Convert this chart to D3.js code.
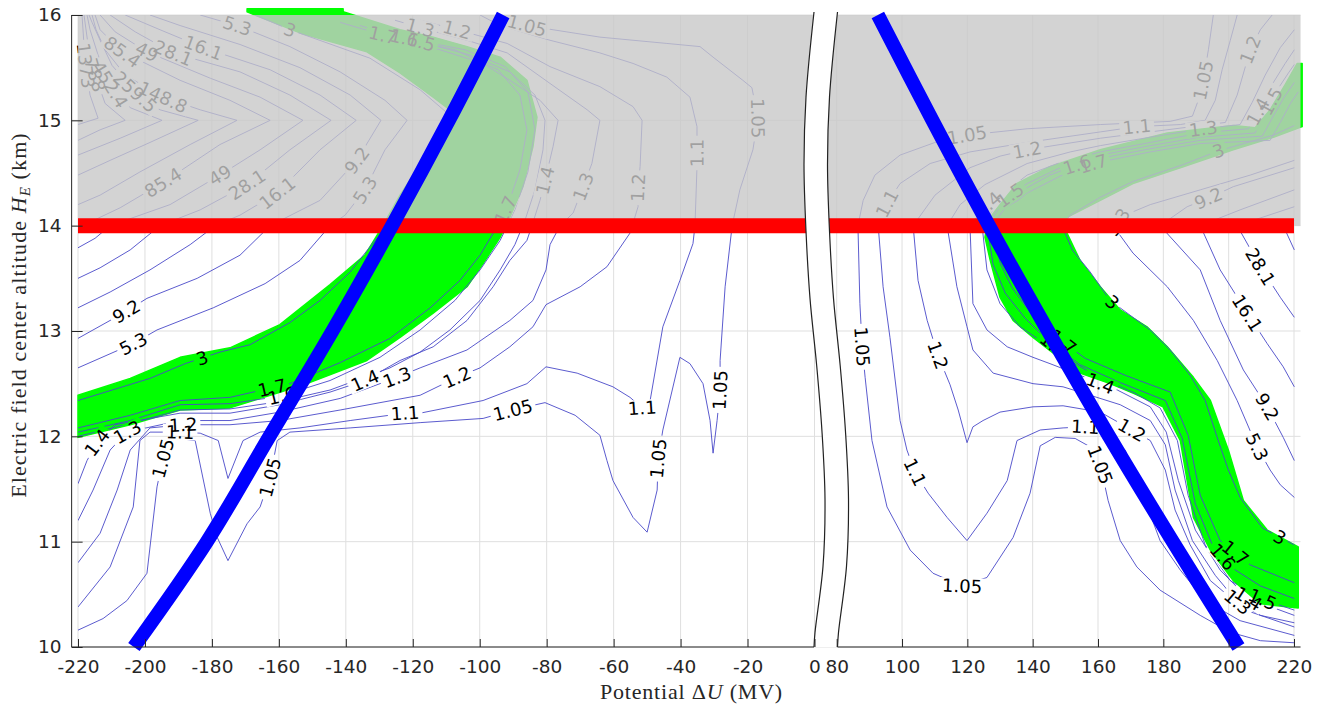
<!DOCTYPE html>
<html>
<head>
<meta charset="utf-8">
<script src="https://cdn.jsdelivr.net/npm/d3@7"></script>
<style>
  html, body { margin: 0; padding: 0; background: #ffffff; }
  svg { display: block; }
</style>
</head>
<body>
<script>
// ---------------------------------------------------------------------------
// Axis ticks
// ---------------------------------------------------------------------------
const xTicksLeft  = [-220, -200, -180, -160, -140, -120, -100, -80, -60, -40, -20, 0];
const xTicksRight = [80, 100, 120, 140, 160, 180, 200, 220];
const yTicks      = [10, 11, 12, 13, 14, 15, 16];
const thresholdAltitude = 14;          // km, red limit line
const shadedAltitudes   = [14, 16];    // km, shaded (excluded) band

// ---------------------------------------------------------------------------
// Contour lines, [potential ΔU (MV), altitude H_E (km)]
// ---------------------------------------------------------------------------
// negative-potential side
const cL_5_3   = [[-183.5,16.00],[-171.6,15.89],[-156.7,15.70],[-141.7,15.46],[-128.3,15.19],[-121.7,15.00],[-128.3,14.72],[-134.3,14.34],[-140.2,14.10],[-144.7,14.00],[-153.7,13.67],[-164.1,13.45],[-179.6,13.22],[-196.4,13.01],[-203.5,12.88],[-220.0,12.65]];
const cL_9_2   = [[-198.5,16.00],[-189.5,15.90],[-171.6,15.72],[-153.7,15.50],[-138.7,15.24],[-129.5,15.00],[-136.7,14.62],[-147.7,14.24],[-162.6,14.00],[-171.6,13.72],[-184.4,13.50],[-199.4,13.31],[-205.9,13.18],[-220.0,12.93]];
const cL_16_1  = [[-205.9,16.00],[-195.5,15.86],[-182.6,15.69],[-162.6,15.48],[-147.7,15.24],[-136.9,15.00],[-147.7,14.72],[-160.5,14.31],[-171.6,14.10],[-179.0,14.00],[-186.5,13.82],[-198.5,13.58],[-210.4,13.37],[-220.0,13.22]];
const cL_28_1  = [[-210.4,16.00],[-202.9,15.84],[-191.6,15.64],[-171.6,15.46],[-156.7,15.24],[-144.4,15.00],[-156.7,14.72],[-169.5,14.39],[-183.5,14.15],[-195.5,14.00],[-204.4,13.77],[-213.4,13.60],[-220.0,13.50]];
const cL_49    = [[-213.4,16.00],[-208.9,15.84],[-199.4,15.65],[-180.5,15.40],[-165.6,15.22],[-152.8,15.00],[-165.6,14.72],[-177.6,14.48],[-192.5,14.20],[-210.4,14.00],[-214.9,13.88],[-220.0,13.79]];
const cL_85_4  = [[-214.9,16.00],[-213.4,15.86],[-206.8,15.65],[-189.5,15.38],[-174.6,15.19],[-162.6,15.00],[-177.6,14.77],[-194.6,14.41],[-207.4,14.17],[-220.0,13.98]];
const cL_148_8 = [[-215.8,16.00],[-214.6,15.86],[-211.9,15.67],[-205.9,15.43],[-194.6,15.22],[-183.5,15.10],[-172.5,15.00],[-186.5,14.77],[-201.5,14.51],[-213.4,14.29],[-220.0,14.20]];
const cL_259_5 = [[-216.7,16.00],[-215.8,15.93],[-213.4,15.76],[-209.8,15.52],[-202.9,15.27],[-195.5,15.10],[-184.1,15.00],[-198.5,14.79],[-210.4,14.62],[-220.0,14.48]];
const cL_452_4 = [[-217.3,16.00],[-216.4,15.86],[-214.0,15.62],[-210.4,15.34],[-204.4,15.12],[-194.9,15.00],[-207.4,14.83],[-220.0,14.67]];
const cL_788   = [[-218.2,16.00],[-217.0,15.72],[-214.9,15.43],[-211.9,15.16],[-205.9,15.00],[-213.4,14.91],[-220.0,14.81]];
const cL_1373  = [[-218.8,16.00],[-217.9,15.57],[-216.4,15.24],[-214.0,15.02],[-220.0,14.96]];
const cL_3     = [[-167.1,16.00],[-156.7,15.86],[-132.8,15.59],[-117.8,15.29],[-110.1,15.08],[-110.4,14.81],[-117.8,14.39],[-126.8,14.03],[-131.3,13.86],[-138.7,13.56],[-147.7,13.29],[-156.7,13.08],[-168.6,12.87],[-177.6,12.80],[-188.0,12.69],[-198.5,12.55],[-220.0,12.34]];
const cL_1_7   = [[-141.7,15.93],[-128.9,15.81],[-117.8,15.74],[-107.4,15.67],[-94.5,15.48],[-88.0,15.24],[-85.9,14.91],[-88.0,14.53],[-91.5,14.20],[-95.4,13.96],[-99.9,13.72],[-105.9,13.48],[-114.8,13.22],[-126.8,12.93],[-141.7,12.70],[-156.7,12.50],[-165.0,12.44],[-174.6,12.37],[-189.5,12.34],[-204.4,12.20],[-220.0,12.08]];
const cL_1_6   = [[-135.8,15.90],[-123.8,15.79],[-104.4,15.67],[-92.4,15.51],[-85.6,15.27],[-83.5,14.91],[-85.6,14.51],[-89.5,14.15],[-93.9,13.86],[-99.9,13.58],[-107.4,13.29],[-117.8,13.01],[-129.8,12.75],[-144.7,12.53],[-159.7,12.38],[-174.6,12.31],[-189.5,12.30],[-204.4,12.15],[-220.0,12.04]];
const cL_1_5   = [[-129.8,15.86],[-114.8,15.72],[-102.9,15.62],[-91.0,15.46],[-83.5,15.24],[-80.5,15.00],[-81.1,14.72],[-83.5,14.34],[-86.5,14.05],[-89.5,13.82],[-93.9,13.58],[-99.9,13.29],[-108.9,13.01],[-117.8,12.80],[-126.8,12.65],[-144.7,12.44],[-159.7,12.33],[-174.6,12.26],[-189.5,12.25],[-204.4,12.12],[-220.0,12.00]];
const cL_1_4   = [[-120.8,15.74],[-111.9,15.67],[-99.0,15.54],[-91.0,15.38],[-82.0,15.19],[-76.6,15.00],[-78.1,14.75],[-80.5,14.43],[-82.0,14.24],[-84.4,14.00],[-85.9,13.86],[-91.0,13.67],[-96.0,13.42],[-103.8,13.10],[-113.9,12.85],[-123.8,12.72],[-134.3,12.53],[-144.7,12.42],[-159.7,12.30],[-174.6,12.22],[-189.5,12.22],[-208.9,12.11],[-214.3,11.94],[-217.3,11.77],[-220.0,11.55]];
const cL_1_3   = [[-125.3,15.95],[-117.8,15.88],[-103.8,15.76],[-91.8,15.64],[-79.0,15.35],[-67.9,15.10],[-64.1,15.00],[-66.5,14.59],[-69.1,14.37],[-72.1,14.12],[-76.0,14.00],[-79.0,13.82],[-80.2,13.58],[-84.1,13.29],[-91.0,13.10],[-103.8,12.82],[-117.8,12.65],[-124.7,12.56],[-141.7,12.36],[-159.7,12.23],[-174.6,12.15],[-189.5,12.15],[-205.4,12.04],[-210.4,11.87],[-215.5,11.49],[-220.0,11.20]];
const cL_1_2   = [[-117.8,15.95],[-106.8,15.86],[-91.8,15.73],[-79.0,15.51],[-64.1,15.32],[-54.2,15.13],[-51.5,15.00],[-52.1,14.56],[-52.7,14.36],[-52.7,14.18],[-55.1,13.93],[-62.0,13.61],[-70.0,13.42],[-80.2,13.25],[-84.1,13.04],[-91.0,12.85],[-99.9,12.65],[-106.8,12.56],[-117.8,12.39],[-141.7,12.25],[-159.7,12.15],[-174.6,12.11],[-188.6,12.11],[-198.5,12.08],[-204.4,11.87],[-208.3,11.49],[-213.4,11.08],[-220.0,10.80]];
const cL_1_1   = [[-99.9,16.00],[-93.9,15.90],[-79.0,15.76],[-64.1,15.64],[-54.2,15.54],[-44.1,15.41],[-37.2,15.22],[-35.1,14.94],[-35.1,14.69],[-35.1,14.56],[-35.7,14.00],[-36.3,13.83],[-40.2,13.48],[-45.3,13.04],[-49.1,12.34],[-51.5,12.27],[-55.1,12.37],[-60.2,12.47],[-70.9,12.60],[-80.2,12.66],[-85.9,12.50],[-99.0,12.34],[-117.8,12.22],[-122.3,12.22],[-138.7,12.15],[-153.7,12.08],[-165.6,12.04],[-170.7,11.96],[-175.2,11.60],[-178.1,11.96],[-183.5,12.03],[-188.0,12.04],[-198.5,12.04],[-201.5,11.96],[-203.5,11.33],[-210.4,10.76],[-220.0,10.38]];
const cL_1_05  = [[-92.4,15.98],[-85.9,15.90],[-78.1,15.86],[-64.1,15.79],[-44.1,15.73],[-34.2,15.70],[-30.3,15.60],[-21.4,15.38],[-18.7,15.31],[-16.9,15.02],[-18.4,14.72],[-22.3,14.34],[-24.6,14.00],[-26.7,13.42],[-28.2,12.72],[-28.2,12.44],[-29.1,12.15],[-30.3,11.84],[-31.2,12.15],[-33.3,12.50],[-37.2,12.69],[-40.2,12.75],[-45.3,12.06],[-46.7,11.79],[-47.0,11.49],[-50.0,11.09],[-54.2,11.23],[-60.2,11.58],[-62.0,11.77],[-64.1,12.01],[-71.5,12.20],[-80.5,12.32],[-90.1,12.25],[-99.0,12.17],[-117.8,12.13],[-138.7,12.08],[-156.7,12.04],[-160.5,11.96],[-162.6,11.61],[-165.6,11.33],[-169.5,11.17],[-175.2,10.82],[-178.4,11.04],[-180.5,11.27],[-185.0,11.96],[-192.5,11.99],[-194.6,11.79],[-196.4,11.52],[-199.4,10.70],[-205.4,10.44],[-212.5,10.27],[-220.0,10.16]];

// positive-potential side
const cR_1_05 = [[195.3,16.00],[193.8,15.67],[192.2,15.38],[190.7,15.19],[188.9,15.04],[182.1,14.99],[160.7,14.96],[138.3,14.92],[119.9,14.86],[110.1,14.79],[99.4,14.67],[91.7,14.48],[88.1,14.24],[86.5,14.00],[87.1,13.26],[87.8,12.85],[88.7,12.56],[90.8,11.96],[95.4,11.33],[102.5,10.92],[109.5,10.70],[118.4,10.58],[126.0,10.66],[134.0,11.04],[139.2,11.46],[142.3,11.91],[146.9,11.99],[153.0,11.98],[157.6,11.90],[160.7,11.73],[163.1,11.39],[166.8,11.01],[171.9,10.76],[179.0,10.54],[191.3,10.30],[200.5,10.14],[209.7,10.06],[220.1,10.04]];
const cR_1_1  = [[202.6,16.00],[200.5,15.76],[198.0,15.48],[195.9,15.19],[192.8,15.00],[185.2,14.96],[171.9,14.94],[160.7,14.89],[138.3,14.79],[120.8,14.70],[108.6,14.59],[99.4,14.40],[95.4,14.21],[92.7,14.00],[94.2,13.42],[96.3,12.94],[99.4,12.15],[101.5,11.87],[104.0,11.66],[108.0,11.46],[113.8,11.23],[119.9,11.01],[126.0,11.27],[132.2,11.58],[135.2,11.96],[142.3,12.06],[149.3,12.08],[156.1,12.09],[162.2,12.06],[168.3,11.87],[174.4,11.39],[179.0,11.01],[185.2,10.73],[192.8,10.44],[203.5,10.25],[220.1,10.11]];
const cR_1_2  = [[213.3,16.00],[209.7,15.86],[206.6,15.67],[202.6,15.24],[199.0,14.98],[191.3,14.95],[176.0,14.89],[160.7,14.83],[148.4,14.77],[138.3,14.72],[130.0,14.66],[120.8,14.55],[110.1,14.29],[103.4,14.00],[104.9,13.48],[107.7,13.10],[111.0,12.77],[114.7,12.49],[117.2,12.25],[119.9,11.94],[121.7,12.09],[124.8,12.15],[130.0,12.23],[140.1,12.28],[149.3,12.29],[160.7,12.23],[170.4,12.06],[176.0,11.96],[180.6,11.68],[183.6,11.30],[188.2,10.97],[194.4,10.63],[205.1,10.35],[220.1,10.19]];
const cR_1_3  = [[220.1,15.86],[215.8,15.69],[211.2,15.43],[207.2,15.17],[203.5,14.96],[192.2,14.92],[176.0,14.84],[160.7,14.76],[151.5,14.70],[138.3,14.59],[125.4,14.39],[117.8,14.20],[113.8,14.00],[116.8,13.42],[119.9,13.04],[121.7,12.82],[127.9,12.60],[140.1,12.50],[149.3,12.47],[157.6,12.39],[166.8,12.30],[176.0,12.15],[180.6,11.92],[183.6,11.49],[188.9,11.01],[195.9,10.68],[202.6,10.43],[209.7,10.30],[220.1,10.23]];
const cR_1_4  = [[220.1,15.67],[217.3,15.54],[213.3,15.34],[209.7,15.12],[206.0,14.92],[191.3,14.88],[176.0,14.79],[160.7,14.70],[148.4,14.60],[138.3,14.48],[131.6,14.32],[125.4,14.18],[120.8,14.00],[121.7,13.26],[126.0,13.01],[132.2,12.85],[140.1,12.75],[145.3,12.69],[154.5,12.58],[165.9,12.44],[176.0,12.28],[180.9,12.04],[184.6,11.58],[189.8,11.11],[197.4,10.73],[206.0,10.46],[220.1,10.30]];
const cR_1_5  = [[220.1,15.53],[218.3,15.45],[214.9,15.29],[211.2,15.08],[208.1,14.88],[191.3,14.84],[176.0,14.76],[160.7,14.67],[148.4,14.55],[138.3,14.40],[133.1,14.29],[128.5,14.18],[124.5,14.00],[126.0,13.58],[130.0,13.26],[136.1,13.04],[142.3,12.91],[151.5,12.72],[160.7,12.55],[171.3,12.41],[179.0,12.27],[184.3,11.96],[187.6,11.44],[192.8,10.97],[200.5,10.63],[209.7,10.46],[220.1,10.35]];
const cR_1_6  = [[220.1,15.36],[217.0,15.22],[213.3,15.02],[210.3,14.85],[191.3,14.81],[176.0,14.73],[160.7,14.64],[153.6,14.58],[145.3,14.48],[138.3,14.36],[134.6,14.27],[130.0,14.18],[126.0,14.00],[127.9,13.63],[131.6,13.36],[137.7,13.12],[145.3,12.89],[154.5,12.68],[166.8,12.51],[180.6,12.34],[185.8,11.98],[189.8,11.36],[195.0,10.97],[201.1,10.75],[209.7,10.58],[220.1,10.46]];
const cR_1_7  = [[221.3,15.27],[218.9,15.16],[215.8,14.98],[212.7,14.81],[191.3,14.78],[176.0,14.70],[158.5,14.59],[148.4,14.47],[138.3,14.31],[135.5,14.24],[131.6,14.17],[127.6,14.00],[130.0,13.65],[133.7,13.41],[139.2,13.18],[146.9,12.95],[156.1,12.74],[168.3,12.58],[182.1,12.42],[187.6,12.01],[191.3,11.44],[197.4,11.01],[206.6,10.78],[220.1,10.61]];
const cR_3    = [[220.1,14.95],[213.7,14.86],[196.8,14.71],[186.1,14.58],[170.7,14.42],[160.7,14.27],[151.5,14.10],[149.0,14.00],[152.1,13.77],[157.6,13.56],[163.7,13.29],[169.8,13.15],[176.0,13.01],[182.1,12.82],[188.2,12.58],[192.8,12.34],[196.8,11.96],[199.9,11.68],[203.5,11.42],[210.3,11.13],[216.4,11.03],[220.1,10.97]];
const cR_5_3  = [[220.1,14.62],[206.6,14.48],[191.3,14.34],[176.0,14.20],[169.8,14.12],[164.6,14.00],[170.7,13.74],[181.2,13.42],[189.2,13.10],[196.5,12.72],[202.6,12.34],[208.7,11.90],[212.7,11.68],[215.8,11.54],[220.1,11.42]];
const cR_9_2  = [[220.1,14.55],[201.4,14.37],[193.8,14.26],[187.3,14.18],[179.0,14.00],[191.3,13.58],[197.4,13.10],[204.5,12.63],[211.8,12.28],[216.7,11.99],[220.1,11.77]];
const cR_16_1 = [[220.1,14.34],[203.5,14.15],[191.3,14.00],[197.4,13.58],[205.7,13.17],[211.8,12.88],[216.7,12.66],[220.1,12.47]];
const cR_28_1 = [[220.1,14.18],[202.6,14.00],[209.7,13.61],[215.8,13.32],[220.1,13.13]];
const cR_49   = [[220.1,14.05],[216.7,14.00],[220.1,13.77]];

// level name of each contour line, in drawing order
const contourLevels = ["5.3","9.2","16.1","28.1","49","85.4","148.8","259.5","452.4","788","1373","3","1.7","1.6","1.5","1.4","1.3","1.2","1.1","1.05",
                       "1.05","1.1","1.2","1.3","1.4","1.5","1.6","1.7","3","5.3","9.2","16.1","28.1","49"];
const contourPaths  = [cL_5_3,cL_9_2,cL_16_1,cL_28_1,cL_49,cL_85_4,cL_148_8,cL_259_5,cL_452_4,cL_788,cL_1373,cL_3,cL_1_7,cL_1_6,cL_1_5,cL_1_4,cL_1_3,cL_1_2,cL_1_1,cL_1_05,
                       cR_1_05,cR_1_1,cR_1_2,cR_1_3,cR_1_4,cR_1_5,cR_1_6,cR_1_7,cR_3,cR_5_3,cR_9_2,cR_16_1,cR_28_1,cR_49];

// inline labels: [contour index, ΔU, H_E]
const contourLabels = [
  [0,-172.5,15.89],[0,-134.3,14.34],[0,-203.5,12.88],
  [1,-136.7,14.62],[1,-205.9,13.20],
  [2,-182.6,15.69],[2,-160.5,14.31],
  [3,-191.6,15.64],[3,-169.5,14.39],
  [4,-199.4,15.65],[4,-177.6,14.48],
  [5,-206.8,15.65],[5,-194.6,14.41],
  [6,-194.6,15.22],[7,-202.9,15.27],[8,-210.4,15.34],[9,-214.9,15.43],[10,-217.6,15.52],
  [11,-156.7,15.86],[11,-183.0,12.75],
  [12,-162.0,12.46],[12,-92.4,14.15],[12,-128.9,15.81],
  [13,-159.1,12.39],[13,-122.6,15.78],
  [14,-117.8,15.72],
  [15,-214.3,11.94],[15,-134.3,12.53],[15,-80.5,14.43],
  [16,-205.4,12.06],[16,-124.7,12.56],[16,-69.1,14.37],[16,-117.8,15.88],
  [17,-188.6,12.11],[17,-106.8,12.56],[17,-52.7,14.36],[17,-106.8,15.86],
  [18,-189.5,12.02],[18,-122.3,12.22],[18,-51.5,12.27],[18,-35.1,14.69],
  [19,-194.6,11.79],[19,-162.6,11.61],[19,-90.1,12.25],[19,-46.7,11.79],[19,-28.2,12.44],[19,-16.9,15.02],[19,-85.9,15.90],
  [20,192.2,15.38],[20,119.9,14.86],[20,87.8,12.85],[20,118.4,10.58],[20,160.7,11.73],
  [21,171.9,14.94],[21,95.4,14.21],[21,104.0,11.66],[21,156.1,12.09],
  [22,206.6,15.67],[22,138.3,14.72],[22,111.0,12.77],[22,170.4,12.06],
  [23,192.2,14.92],[23,202.6,10.42],
  [24,209.1,15.08],[24,126.3,14.20],[24,160.7,12.50],[24,206.0,10.46],
  [25,213.0,15.18],[25,133.1,14.29],[25,210.3,10.45],
  [26,153.6,14.58],[26,146.9,12.89],[26,198.0,10.85],
  [27,158.5,14.59],[27,149.3,12.90],[27,202.0,10.89],
  [28,196.8,14.71],[28,164.3,13.27],[28,215.8,11.05],
  [29,166.0,14.04],[29,208.7,11.90],
  [30,193.8,14.26],[30,211.8,12.28],
  [31,205.7,13.17],
  [32,209.7,13.61]
];

// ---------------------------------------------------------------------------
// Feasible region (green band) outlines, [ΔU, H_E]
// ---------------------------------------------------------------------------
const greenBandLeft = [[-220.0,12.39],[-204.4,12.55],[-189.5,12.75],[-174.6,12.84],[-159.7,13.06],[-144.7,13.44],[-134.3,13.72],[-128.9,14.00],[-123.8,14.29],[-117.8,14.58],[-111.9,14.91],[-108.9,15.10],[-113.9,15.22],[-123.8,15.45],[-133.7,15.65],[-153.7,15.83],[-169.5,16.03],[-169.5,16.06],[-140.8,16.06],[-140.8,16.03],[-123.8,15.86],[-113.9,15.79],[-103.8,15.70],[-93.9,15.60],[-85.9,15.38],[-82.9,15.03],[-84.1,14.75],[-87.1,14.37],[-91.0,14.08],[-93.9,13.89],[-99.0,13.64],[-103.8,13.42],[-113.9,13.17],[-123.8,12.94],[-133.7,12.72],[-151.6,12.50],[-162.6,12.39],[-174.6,12.27],[-189.5,12.25],[-204.4,12.11],[-220.0,11.99]];
const greenBandRight = [[221.3,10.37],[209.7,10.41],[201.4,10.63],[194.4,10.92],[189.2,11.23],[185.2,11.96],[179.9,12.28],[170.7,12.41],[163.7,12.50],[154.5,12.60],[146.3,12.79],[140.1,12.94],[134.0,13.10],[130.0,13.32],[127.0,13.67],[125.4,13.89],[126.3,14.05],[130.0,14.20],[135.2,14.40],[145.3,14.56],[160.7,14.72],[181.2,14.88],[201.4,14.95],[208.1,14.93],[212.7,15.10],[217.3,15.34],[221.0,15.54],[222.5,15.54],[222.5,14.94],[213.7,14.84],[201.4,14.72],[186.1,14.56],[170.7,14.40],[160.7,14.24],[150.5,14.08],[150.5,13.93],[154.5,13.67],[160.7,13.42],[166.8,13.20],[175.0,13.04],[181.2,12.85],[189.2,12.56],[194.4,12.34],[199.9,11.87],[204.5,11.39],[211.8,11.11],[221.3,10.95]];

// ---------------------------------------------------------------------------
// Blue reference curves, [ΔU, H_E]
// ---------------------------------------------------------------------------
const blueCurveLeft  = [[-203.3,10],[-181.5,11],[-162.8,12],[-144.0,13],[-126.2,14],[-109.2,15],[-93.0,16]];
const blueCurveRight = [[203.0,10],[182.9,11],[163.4,12],[144.7,13],[126.6,14],[109.3,15],[92.6,16]];

// ---------------------------------------------------------------------------
// Layout and scales (x axis is broken between 0 and 80 MV)
// ---------------------------------------------------------------------------
const W = 1336, H = 704;
const xLeft  = d3.scaleLinear().domain([-220, 0]).range([78, 814.5]);
const xRight = d3.scaleLinear().domain([80, 220]).range([836.7, 1294]);
const X = u => (u <= 40 ? xLeft(u) : xRight(u));
const Y = d3.scaleLinear().domain([10, 16]).range([647, 15]);
const axisLeftU = -221.9, axisRightU = 222;

const svg = d3.select("body").append("svg")
  .attr("width", W).attr("height", H)
  .attr("viewBox", `0 0 ${W} ${H}`);
const defs = svg.append("defs");

defs.append("clipPath").attr("id", "plotClip").append("rect")
  .attr("x", xLeft(-220)).attr("y", Y(16))
  .attr("width", xRight(axisRightU) - xLeft(-220)).attr("height", Y(10) - Y(16));

const gapMask = defs.append("mask").attr("id", "labelGaps")
  .attr("maskUnits", "userSpaceOnUse")
  .attr("x", 0).attr("y", 0).attr("width", W).attr("height", H);
gapMask.append("rect").attr("width", W).attr("height", H).attr("fill", "#fff");

// grid
const grid = svg.append("g").attr("stroke", "#dfdfdf").attr("stroke-width", 1);
[...xTicksLeft.map(xLeft), ...xTicksRight.map(xRight)].forEach(px => {
  grid.append("line").attr("x1", px).attr("x2", px).attr("y1", Y(10)).attr("y2", Y(16));
});
yTicks.forEach(v => {
  grid.append("line").attr("x1", xLeft(axisLeftU)).attr("x2", xRight(axisRightU))
    .attr("y1", Y(v)).attr("y2", Y(v));
});

// green feasible band
const area = d3.line().x(d => X(d[0])).y(d => Y(d[1])).curve(d3.curveLinearClosed);
[greenBandLeft, greenBandRight].forEach(poly => {
  svg.append("path").attr("d", area(poly))
    .attr("fill", "#00ff00").attr("stroke", "#00ff00")
    .attr("stroke-width", 1.5).attr("stroke-linejoin", "round");
});

// contour lines
const lineGen = d3.line().x(d => X(d[0])).y(d => Y(d[1]));
const contourG = svg.append("g")
  .attr("clip-path", "url(#plotClip)")
  .append("g").attr("mask", "url(#labelGaps)")
  .attr("fill", "none").attr("stroke", "#4848c8").attr("stroke-width", 0.9)
  .attr("stroke-linejoin", "round");
contourPaths.forEach(p => contourG.append("path").attr("d", lineGen(p)));

// contour labels, placed on their line and turned along it
const labelG = svg.append("g")
  .attr("font-family", "DejaVu Sans, sans-serif").attr("font-size", 18)
  .attr("fill", "#000").attr("text-anchor", "middle");

function screenPts(path) { return path.map(d => [X(d[0]), Y(d[1])]); }
function arcInfo(pts) {
  const cum = [0];
  for (let i = 1; i < pts.length; i++)
    cum.push(cum[i - 1] + Math.hypot(pts[i][0] - pts[i - 1][0], pts[i][1] - pts[i - 1][1]));
  return cum;
}
function project(pts, cum, p) {
  let best = Infinity, s = 0;
  for (let i = 0; i < pts.length - 1; i++) {
    const [ax, ay] = pts[i], [bx, by] = pts[i + 1];
    const dx = bx - ax, dy = by - ay, L2 = dx * dx + dy * dy || 1;
    let t = ((p[0] - ax) * dx + (p[1] - ay) * dy) / L2;
    t = Math.max(0, Math.min(1, t));
    const d = Math.hypot(p[0] - (ax + t * dx), p[1] - (ay + t * dy));
    if (d < best) { best = d; s = cum[i] + t * Math.sqrt(L2); }
  }
  return s;
}
function pointAt(pts, cum, s) {
  s = Math.max(0, Math.min(cum[cum.length - 1], s));
  for (let i = 0; i < pts.length - 1; i++) {
    if (s <= cum[i + 1]) {
      const seg = cum[i + 1] - cum[i] || 1, t = (s - cum[i]) / seg;
      return [pts[i][0] + t * (pts[i + 1][0] - pts[i][0]), pts[i][1] + t * (pts[i + 1][1] - pts[i][1])];
    }
  }
  return pts[pts.length - 1];
}

contourLabels.forEach(([idx, u, h]) => {
  const pts = screenPts(contourPaths[idx]);
  const cum = arcInfo(pts);
  const s0 = project(pts, cum, [X(u), Y(h)]);
  const c = pointAt(pts, cum, s0);
  const t = labelG.append("text").attr("dy", "0.36em").text(contourLevels[idx]);
  const w = t.node().getComputedTextLength();
  const a = pointAt(pts, cum, s0 - w / 2), b = pointAt(pts, cum, s0 + w / 2);
  let ang = Math.atan2(b[1] - a[1], b[0] - a[0]) * 180 / Math.PI;
  if (ang > 90) ang -= 180;
  if (ang <= -90) ang += 180;
  const tf = `translate(${c[0]},${c[1]}) rotate(${ang})`;
  t.attr("transform", tf);
  gapMask.append("rect")
    .attr("x", -w / 2 - 3).attr("y", -8).attr("width", w + 6).attr("height", 16)
    .attr("transform", tf).attr("fill", "#000");
});

// shaded band above the altitude limit
svg.append("rect")
  .attr("x", xLeft(-220)).attr("y", Y(shadedAltitudes[1]))
  .attr("width", xRight(axisRightU) - xLeft(-220))
  .attr("height", Y(shadedAltitudes[0]) - Y(shadedAltitudes[1]))
  .attr("fill", "rgb(200,200,200)").attr("fill-opacity", 0.8);

// red altitude limit
svg.append("line")
  .attr("x1", xLeft(-220)).attr("x2", xRight(220))
  .attr("y1", Y(thresholdAltitude)).attr("y2", Y(thresholdAltitude))
  .attr("stroke", "#ff0000").attr("stroke-width", 15);

// blue reference curves
const curveGen = d3.line().x(d => X(d[0])).y(d => Y(d[1])).curve(d3.curveCatmullRom);
[blueCurveLeft, blueCurveRight].forEach(c => {
  svg.append("path").attr("d", curveGen(c))
    .attr("fill", "none").attr("stroke", "#0000ff").attr("stroke-width", 14)
    .attr("stroke-linecap", "butt");
});

// axis break ribbon
const breakWave = [[0,0],[0.134,-8],[0.240,-10],[0.345,-8],[0.451,-4],[0.557,2.7],[0.661,8],[0.767,11],[0.873,9],[0.977,1],[1,0]];
const bTop = Y(16) - 3, bBot = Y(10);
const bx0 = xLeft(0) - 0.5, bx1 = xRight(80) + 0.8;
const wavePts = breakWave.map(([f, dx]) => ({ y: bTop + f * (bBot - bTop), dx }));
svg.append("path")
  .attr("d", d3.area().y(d => d.y).x0(d => bx0 + d.dx).x1(d => bx1 + d.dx).curve(d3.curveCatmullRom)(wavePts))
  .attr("fill", "#fff");
[bx0, bx1].forEach(bx => {
  svg.append("path")
    .attr("d", d3.line().x(d => bx + d.dx).y(d => d.y).curve(d3.curveCatmullRom)(wavePts))
    .attr("fill", "none").attr("stroke", "#222").attr("stroke-width", 1.2);
});

// axes
const axisColor = "#262626";
const axG = svg.append("g");
axG.append("line").attr("x1", xLeft(axisLeftU)).attr("x2", xLeft(axisLeftU))
  .attr("y1", Y(16)).attr("y2", Y(10)).attr("stroke", axisColor);
axG.append("line").attr("x1", xLeft(axisLeftU)).attr("x2", bx0)
  .attr("y1", Y(10)).attr("y2", Y(10)).attr("stroke", axisColor);
axG.append("line").attr("x1", bx1).attr("x2", xRight(axisRightU))
  .attr("y1", Y(10)).attr("y2", Y(10)).attr("stroke", axisColor);

function styleAxis(g) {
  g.select(".domain").remove();
  g.selectAll(".tick line").attr("stroke", axisColor);
  g.selectAll(".tick text").attr("fill", axisColor)
    .attr("font-family", "DejaVu Sans, sans-serif").attr("font-size", 18.5);
}
svg.append("g").attr("transform", `translate(0,${Y(10)})`)
  .call(d3.axisBottom(xLeft).tickValues(xTicksLeft).tickSize(-8).tickPadding(13).tickFormat(d => String(d)))
  .call(styleAxis);
svg.append("g").attr("transform", `translate(0,${Y(10)})`)
  .call(d3.axisBottom(xRight).tickValues(xTicksRight).tickSize(-8).tickPadding(13).tickFormat(d => String(d)))
  .call(styleAxis);
svg.append("g").attr("transform", `translate(${xLeft(axisLeftU)},0)`)
  .call(d3.axisLeft(Y).tickValues(yTicks).tickSize(-11).tickPadding(10).tickFormat(d => String(d)))
  .call(styleAxis);

// axis titles
const xTitle = svg.append("text")
  .attr("x", 691.5).attr("y", 699).attr("text-anchor", "middle")
  .attr("font-family", "Liberation Serif, serif").attr("font-size", 22)
  .attr("letter-spacing", 0.8).attr("fill", axisColor);
xTitle.append("tspan").text("Potential Δ");
xTitle.append("tspan").attr("font-style", "italic").text("U");
xTitle.append("tspan").text(" (MV)");

const yTitle = svg.append("text")
  .attr("transform", "translate(26,315) rotate(-90)").attr("text-anchor", "middle")
  .attr("font-family", "Liberation Serif, serif").attr("font-size", 22)
  .attr("letter-spacing", 1.1).attr("fill", axisColor);
yTitle.append("tspan").text("Electric field center altitude ");
yTitle.append("tspan").attr("font-style", "italic").text("H");
yTitle.append("tspan").attr("font-style", "italic").attr("font-size", 15).attr("dy", 4).text("E");
yTitle.append("tspan").attr("dy", -4).text(" (km)");
</script>
</body>
</html>
